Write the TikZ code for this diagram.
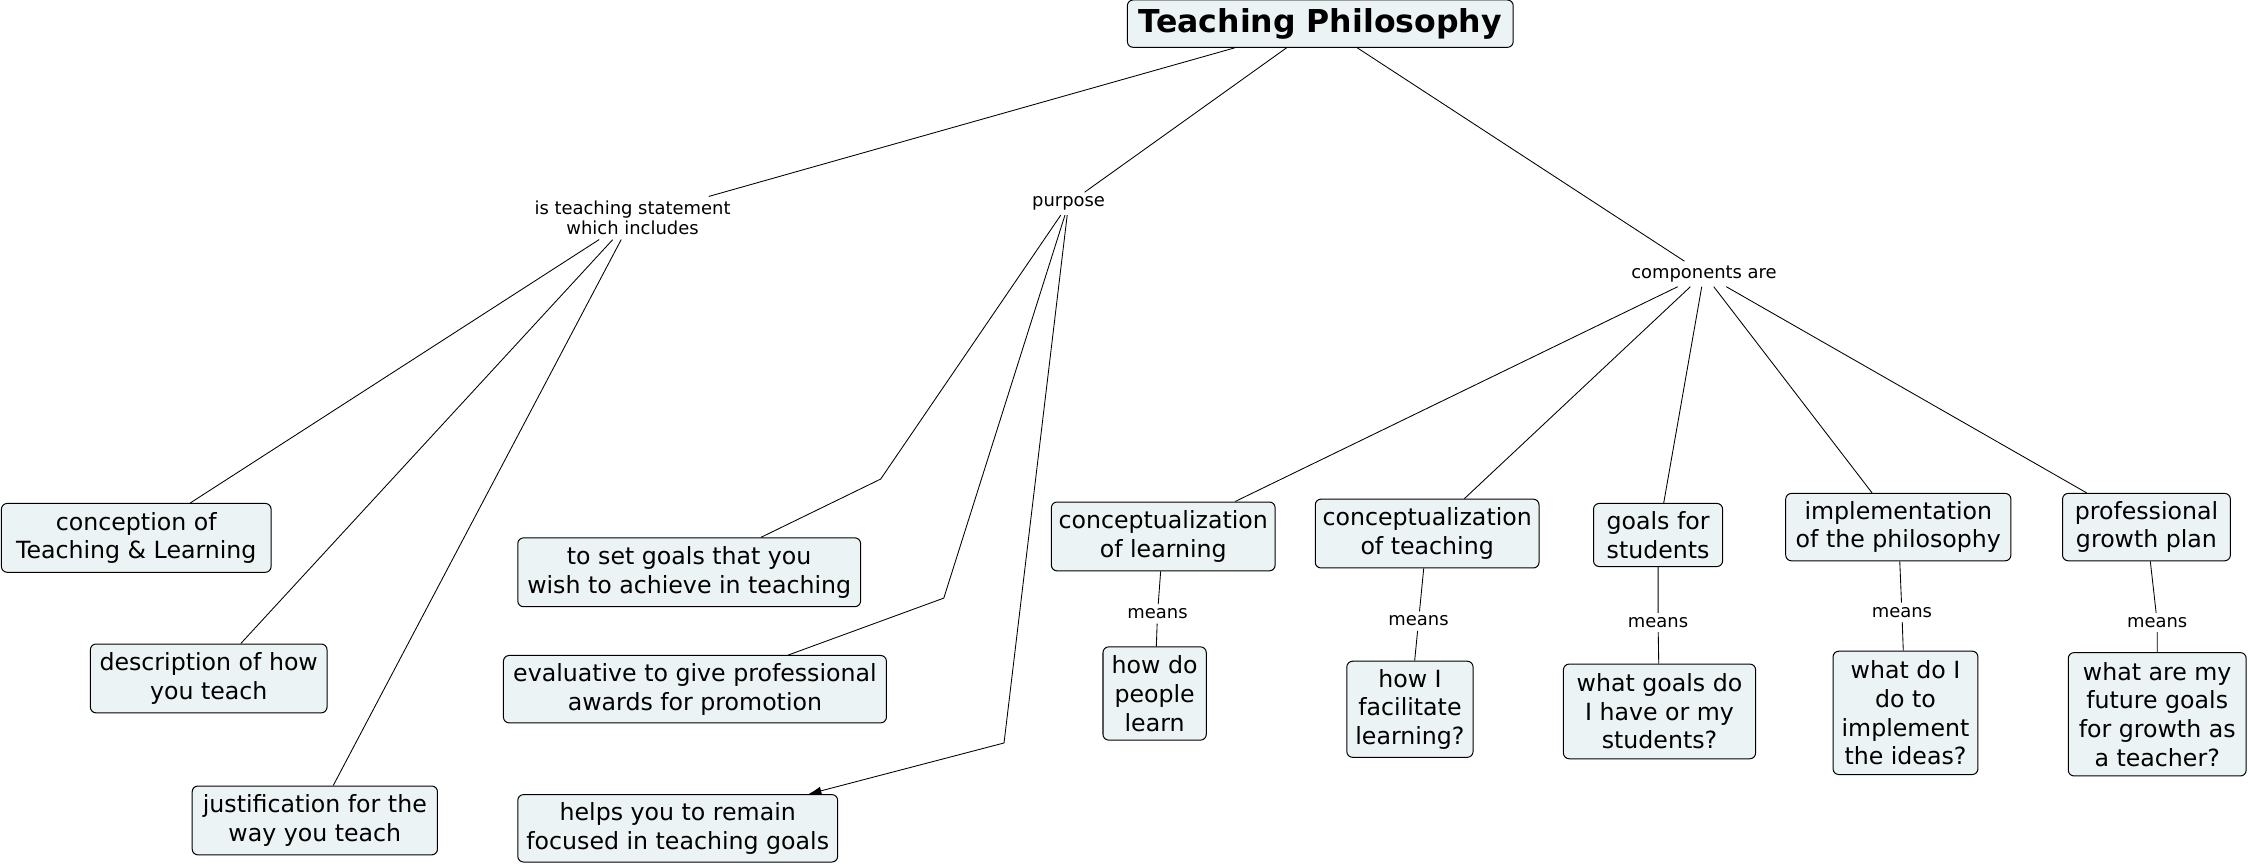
\documentclass[tikz,border=0pt]{standalone}
\usepackage{fontspec}
\setmainfont{DejaVu Sans}
\usetikzlibrary{arrows.meta}
\definecolor{boxfill}{RGB}{236,243,244}
\tikzset{
  cbox/.style={draw, line width=0.7pt, rounded corners=4pt, fill=boxfill, align=center, inner sep=2pt, font=\fontsize{16.5}{20}\selectfont},
  lphrase/.style={align=center, inner sep=3pt, font=\fontsize{12.5}{14}\selectfont},
  conn/.style={line width=0.6pt},
}
\begin{document}
\begin{tikzpicture}[x=1pt,y=-1pt]
\fill[white] (0,0) rectangle (1568,604.5);
\useasboundingbox (0,0) rectangle (1568,604.5);

% title
\node[cbox, font=\fontsize{22}{26}\selectfont\bfseries, minimum width=269, minimum height=33] (title) at (920.5,16.5) {Teaching Philosophy};

% linking phrases
\node[lphrase] (lis) at (441,152) {is teaching statement\\which includes};
\node[lphrase] (lpur) at (745,142) {purpose};
\node[lphrase] (lcomp) at (1188,191) {components are};

% left boxes
\node[cbox, minimum width=188, minimum height=48] (b1) at (95,375) {conception of\\ Teaching \& Learning};
\node[cbox, minimum width=165, minimum height=48] (b2) at (145.5,473) {description of how\\you teach};
\node[cbox, minimum width=171, minimum height=48] (b3) at (219.5,572) {justification for the\\way you teach};

% purpose boxes
\node[cbox, minimum width=239, minimum height=48] (b4) at (480.5,399) {to set goals that you\\wish to achieve in teaching};
\node[cbox, minimum width=267, minimum height=47] (b5) at (484.5,480.5) {evaluative to give professional\\awards for promotion};
\node[cbox, minimum width=223, minimum height=47] (b6) at (472.5,577.5) {helps you to remain\\focused in teaching goals};

% component boxes
\node[cbox, minimum width=156, minimum height=48] (b7) at (811,374) {conceptualization\\of learning};
\node[cbox, minimum width=156, minimum height=48] (b8) at (995,372) {conceptualization\\of teaching};
\node[cbox, minimum width=90, minimum height=44] (b9) at (1156,373) {goals for\\students};
\node[cbox, minimum width=157, minimum height=47] (b10) at (1323.5,367.5) {implementation\\of the philosophy};
\node[cbox, minimum width=117, minimum height=47] (b11) at (1496.5,367.5) {professional\\growth plan};

% means phrases
\node[lphrase] (m1) at (807,428) {means};
\node[lphrase] (m2) at (989,433) {means};
\node[lphrase] (m3) at (1156,434) {means};
\node[lphrase] (m4) at (1326,427) {means};
\node[lphrase] (m5) at (1504,434) {means};

% bottom boxes
\node[cbox, minimum width=72, minimum height=65] (b12) at (805,483.5) {how do\\people\\learn};
\node[cbox, minimum width=88, minimum height=67] (b13) at (983,494.5) {how I\\facilitate\\learning?};
\node[cbox, minimum width=134, minimum height=66] (b14) at (1157,496) {what goals do\\I have or my\\students?};
\node[cbox, minimum width=101, minimum height=86] (b15) at (1328.5,497) {what do I\\do to\\implement\\the ideas?};
\node[cbox, minimum width=124, minimum height=86] (b16) at (1504,498) {what are my\\future goals\\for growth as\\a teacher?};

% bend points
\coordinate (c1) at (614,334);
\coordinate (c2) at (658,417);
\coordinate (c3) at (700,518);

% connectors
\draw[conn] (title) -- (lis);
\draw[conn] (title) -- (lpur);
\draw[conn] (title) -- (lcomp);

\draw[conn] (lis) -- (b1);
\draw[conn] (lis) -- (b2);
\draw[conn] (lis) -- (b3);

\draw[conn] (lpur) -- (c1) -- (b4);
\draw[conn] (lpur) -- (c2) -- (b5);
\draw[conn, -{Latex[length=9pt,width=6pt]}] (lpur) -- (c3) -- (b6);

\draw[conn] (lcomp) -- (b7);
\draw[conn] (lcomp) -- (b8);
\draw[conn] (lcomp) -- (b9);
\draw[conn] (lcomp) -- (b10);
\draw[conn] (lcomp) -- (b11);

\draw[conn] (b7) -- (m1) -- (b12);
\draw[conn] (b8) -- (m2) -- (b13);
\draw[conn] (b9) -- (m3) -- (b14);
\draw[conn] (b10) -- (m4) -- (b15);
\draw[conn] (b11) -- (m5) -- (b16);
\end{tikzpicture}
\end{document}
